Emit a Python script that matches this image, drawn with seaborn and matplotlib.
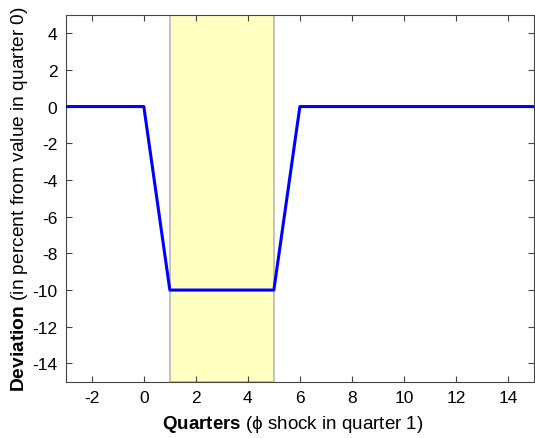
import numpy as np
import pandas as pd
import matplotlib
matplotlib.use("Agg")
import matplotlib.pyplot as plt
import seaborn as sns

# data
quarters = [-3, 0, 1, 5, 6, 15]
deviation = [0, 0, -10, -10, 0, 0]
shock_start, shock_end = 1, 5
x_ticks = [-2, 0, 2, 4, 6, 8, 10, 12, 14]
y_ticks = [-14, -12, -10, -8, -6, -4, -2, 0, 2, 4]

df = pd.DataFrame({"Quarter": quarters, "Deviation": deviation})

sns.set_style("white")
plt.rcParams['font.family'] = ['Liberation Sans', 'DejaVu Sans']
plt.rcParams['axes.unicode_minus'] = False
plt.rcParams['mathtext.fontset'] = 'custom'
plt.rcParams['mathtext.rm'] = 'Liberation Sans'
plt.rcParams['mathtext.bf'] = 'Liberation Sans:bold'
plt.rcParams['text.color'] = 'black'
plt.rcParams['axes.labelcolor'] = 'black'

fig = plt.figure(figsize=(5.35, 4.39), dpi=100)
ax = fig.add_axes([0.123, 0.128, 0.875, 0.836])

ax.axvspan(shock_start, shock_end, facecolor='#ffffc0', edgecolor='#b8b8b8', lw=1.2, zorder=0)
sns.lineplot(data=df, x="Quarter", y="Deviation", color='#0000ff', lw=2.2, ax=ax, zorder=3)

ax.set_xlim(-3, 15)
ax.set_ylim(-15, 5)
ax.set_xticks(x_ticks)
ax.set_yticks(y_ticks)
ax.tick_params(direction='in', length=4, width=0.8, colors='#444444', labelcolor='black',
               labelsize=12.5, top=True, right=True, bottom=True, left=True, pad=6)
for s in ax.spines.values():
    s.set_color('#444444')
    s.set_linewidth(0.8)

ax.set_xlabel(r"$\bf{Quarters}$ (ϕ shock in quarter 1)", fontsize=13.5, labelpad=1)
ax.xaxis.set_label_coords(0.485, -0.085)
ax.set_ylabel(r"$\bf{Deviation}$ (in percent from value in quarter 0)", fontsize=13.8, labelpad=2)

fig.savefig("out.png", dpi=100)
